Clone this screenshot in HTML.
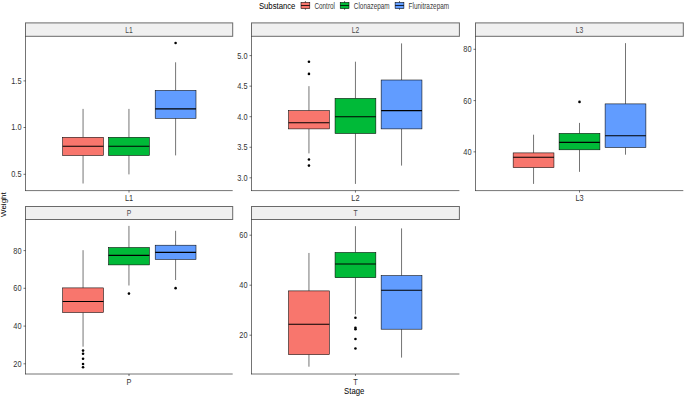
<!DOCTYPE html>
<html><head><meta charset="utf-8"><style>
html,body{margin:0;padding:0;background:#fff;}
body{width:685px;height:397px;overflow:hidden;}
svg{display:block;font-family:"Liberation Sans", sans-serif;}
</style></head><body>
<svg width="685" height="397" viewBox="0 0 685 397">
<rect width="685" height="397" fill="#fff"/>
<rect x="25.50" y="22.90" width="207.20" height="13.40" fill="#F0F0F0" stroke="#6A6A6A" stroke-width="1.0"/>
<text font-size="8.2" fill="#4A4A4A" text-anchor="middle" transform="translate(129.00 32.80) scale(0.82 1)">L1</text>
<line x1="83.05" y1="108.90" x2="83.05" y2="137.30" stroke="#000000" stroke-width="0.55"/>
<line x1="83.05" y1="155.50" x2="83.05" y2="183.50" stroke="#000000" stroke-width="0.55"/>
<rect x="62.65" y="137.30" width="40.80" height="18.20" fill="#F8766D" stroke="#000000" stroke-width="0.55"/>
<line x1="62.65" y1="146.30" x2="103.45" y2="146.30" stroke="#000000" stroke-width="1.1"/>
<line x1="128.95" y1="108.90" x2="128.95" y2="137.30" stroke="#000000" stroke-width="0.55"/>
<line x1="128.95" y1="155.50" x2="128.95" y2="174.40" stroke="#000000" stroke-width="0.55"/>
<rect x="108.55" y="137.30" width="40.80" height="18.20" fill="#00BA38" stroke="#000000" stroke-width="0.55"/>
<line x1="108.55" y1="146.30" x2="149.35" y2="146.30" stroke="#000000" stroke-width="1.1"/>
<line x1="175.60" y1="62.30" x2="175.60" y2="90.40" stroke="#000000" stroke-width="0.55"/>
<line x1="175.60" y1="118.30" x2="175.60" y2="155.40" stroke="#000000" stroke-width="0.55"/>
<rect x="155.20" y="90.40" width="40.80" height="27.90" fill="#619CFF" stroke="#000000" stroke-width="0.55"/>
<line x1="155.20" y1="108.90" x2="196.00" y2="108.90" stroke="#000000" stroke-width="1.1"/>
<circle cx="175.60" cy="43.00" r="1.3" fill="#000"/>
<line x1="25.50" y1="36.30" x2="25.50" y2="190.90" stroke="#000000" stroke-width="0.55"/>
<line x1="25.20" y1="190.60" x2="232.70" y2="190.60" stroke="#000000" stroke-width="0.55"/>
<line x1="23.50" y1="174.30" x2="25.50" y2="174.30" stroke="#000000" stroke-width="0.55"/>
<text font-size="8.2" fill="#333333" text-anchor="end" transform="translate(21.50 177.25) scale(0.9 1)">0.5</text>
<line x1="23.50" y1="127.50" x2="25.50" y2="127.50" stroke="#000000" stroke-width="0.55"/>
<text font-size="8.2" fill="#333333" text-anchor="end" transform="translate(21.50 130.45) scale(0.9 1)">1.0</text>
<line x1="23.50" y1="80.90" x2="25.50" y2="80.90" stroke="#000000" stroke-width="0.55"/>
<text font-size="8.2" fill="#333333" text-anchor="end" transform="translate(21.50 83.85) scale(0.9 1)">1.5</text>
<line x1="129.00" y1="190.60" x2="129.00" y2="192.60" stroke="#000000" stroke-width="0.55"/>
<text font-size="8.2" fill="#333333" text-anchor="middle" transform="translate(129.00 200.90) scale(0.9 1)">L1</text>
<rect x="251.50" y="22.90" width="207.90" height="13.40" fill="#F0F0F0" stroke="#6A6A6A" stroke-width="1.0"/>
<text font-size="8.2" fill="#4A4A4A" text-anchor="middle" transform="translate(355.45 32.80) scale(0.82 1)">L2</text>
<line x1="308.95" y1="86.15" x2="308.95" y2="110.60" stroke="#000000" stroke-width="0.55"/>
<line x1="308.95" y1="128.90" x2="308.95" y2="153.40" stroke="#000000" stroke-width="0.55"/>
<rect x="288.55" y="110.60" width="40.80" height="18.30" fill="#F8766D" stroke="#000000" stroke-width="0.55"/>
<line x1="288.55" y1="122.80" x2="329.35" y2="122.80" stroke="#000000" stroke-width="1.1"/>
<circle cx="308.95" cy="61.70" r="1.3" fill="#000"/>
<circle cx="308.95" cy="73.90" r="1.3" fill="#000"/>
<circle cx="308.95" cy="159.50" r="1.3" fill="#000"/>
<circle cx="308.95" cy="165.60" r="1.3" fill="#000"/>
<line x1="355.45" y1="61.70" x2="355.45" y2="98.40" stroke="#000000" stroke-width="0.55"/>
<line x1="355.45" y1="133.50" x2="355.45" y2="183.90" stroke="#000000" stroke-width="0.55"/>
<rect x="335.05" y="98.40" width="40.80" height="35.10" fill="#00BA38" stroke="#000000" stroke-width="0.55"/>
<line x1="335.05" y1="116.70" x2="375.85" y2="116.70" stroke="#000000" stroke-width="1.1"/>
<line x1="401.55" y1="43.40" x2="401.55" y2="80.00" stroke="#000000" stroke-width="0.55"/>
<line x1="401.55" y1="128.90" x2="401.55" y2="165.60" stroke="#000000" stroke-width="0.55"/>
<rect x="381.15" y="80.00" width="40.80" height="48.90" fill="#619CFF" stroke="#000000" stroke-width="0.55"/>
<line x1="381.15" y1="110.60" x2="421.95" y2="110.60" stroke="#000000" stroke-width="1.1"/>
<line x1="251.50" y1="36.30" x2="251.50" y2="190.90" stroke="#000000" stroke-width="0.55"/>
<line x1="251.20" y1="190.60" x2="459.40" y2="190.60" stroke="#000000" stroke-width="0.55"/>
<line x1="249.50" y1="177.80" x2="251.50" y2="177.80" stroke="#000000" stroke-width="0.55"/>
<text font-size="8.2" fill="#333333" text-anchor="end" transform="translate(247.50 180.75) scale(0.9 1)">3.0</text>
<line x1="249.50" y1="147.25" x2="251.50" y2="147.25" stroke="#000000" stroke-width="0.55"/>
<text font-size="8.2" fill="#333333" text-anchor="end" transform="translate(247.50 150.20) scale(0.9 1)">3.5</text>
<line x1="249.50" y1="116.70" x2="251.50" y2="116.70" stroke="#000000" stroke-width="0.55"/>
<text font-size="8.2" fill="#333333" text-anchor="end" transform="translate(247.50 119.65) scale(0.9 1)">4.0</text>
<line x1="249.50" y1="86.15" x2="251.50" y2="86.15" stroke="#000000" stroke-width="0.55"/>
<text font-size="8.2" fill="#333333" text-anchor="end" transform="translate(247.50 89.10) scale(0.9 1)">4.5</text>
<line x1="249.50" y1="55.60" x2="251.50" y2="55.60" stroke="#000000" stroke-width="0.55"/>
<text font-size="8.2" fill="#333333" text-anchor="end" transform="translate(247.50 58.55) scale(0.9 1)">5.0</text>
<line x1="355.45" y1="190.60" x2="355.45" y2="192.60" stroke="#000000" stroke-width="0.55"/>
<text font-size="8.2" fill="#333333" text-anchor="middle" transform="translate(355.45 200.90) scale(0.9 1)">L2</text>
<rect x="475.50" y="22.90" width="207.80" height="13.40" fill="#F0F0F0" stroke="#6A6A6A" stroke-width="1.0"/>
<text font-size="8.2" fill="#4A4A4A" text-anchor="middle" transform="translate(579.50 32.80) scale(0.82 1)">L3</text>
<line x1="533.55" y1="134.70" x2="533.55" y2="152.90" stroke="#000000" stroke-width="0.55"/>
<line x1="533.55" y1="167.60" x2="533.55" y2="183.90" stroke="#000000" stroke-width="0.55"/>
<rect x="513.15" y="152.90" width="40.80" height="14.70" fill="#F8766D" stroke="#000000" stroke-width="0.55"/>
<line x1="513.15" y1="157.20" x2="553.95" y2="157.20" stroke="#000000" stroke-width="1.1"/>
<line x1="579.50" y1="122.90" x2="579.50" y2="133.40" stroke="#000000" stroke-width="0.55"/>
<line x1="579.50" y1="149.80" x2="579.50" y2="171.85" stroke="#000000" stroke-width="0.55"/>
<rect x="559.10" y="133.40" width="40.80" height="16.40" fill="#00BA38" stroke="#000000" stroke-width="0.55"/>
<line x1="559.10" y1="142.40" x2="599.90" y2="142.40" stroke="#000000" stroke-width="1.1"/>
<circle cx="579.50" cy="101.90" r="1.3" fill="#000"/>
<line x1="625.50" y1="43.15" x2="625.50" y2="103.90" stroke="#000000" stroke-width="0.55"/>
<line x1="625.50" y1="147.50" x2="625.50" y2="154.70" stroke="#000000" stroke-width="0.55"/>
<rect x="605.10" y="103.90" width="40.80" height="43.60" fill="#619CFF" stroke="#000000" stroke-width="0.55"/>
<line x1="605.10" y1="135.70" x2="645.90" y2="135.70" stroke="#000000" stroke-width="1.1"/>
<line x1="475.50" y1="36.30" x2="475.50" y2="190.90" stroke="#000000" stroke-width="0.55"/>
<line x1="475.20" y1="190.60" x2="683.30" y2="190.60" stroke="#000000" stroke-width="0.55"/>
<line x1="473.50" y1="151.85" x2="475.50" y2="151.85" stroke="#000000" stroke-width="0.55"/>
<text font-size="8.2" fill="#333333" text-anchor="end" transform="translate(471.50 154.80) scale(0.9 1)">40</text>
<line x1="473.50" y1="100.60" x2="475.50" y2="100.60" stroke="#000000" stroke-width="0.55"/>
<text font-size="8.2" fill="#333333" text-anchor="end" transform="translate(471.50 103.55) scale(0.9 1)">60</text>
<line x1="473.50" y1="49.30" x2="475.50" y2="49.30" stroke="#000000" stroke-width="0.55"/>
<text font-size="8.2" fill="#333333" text-anchor="end" transform="translate(471.50 52.25) scale(0.9 1)">80</text>
<line x1="579.50" y1="190.60" x2="579.50" y2="192.60" stroke="#000000" stroke-width="0.55"/>
<text font-size="8.2" fill="#333333" text-anchor="middle" transform="translate(579.50 200.90) scale(0.9 1)">L3</text>
<rect x="25.50" y="206.50" width="207.20" height="13.00" fill="#F0F0F0" stroke="#6A6A6A" stroke-width="1.0"/>
<text font-size="8.2" fill="#4A4A4A" text-anchor="middle" transform="translate(129.00 216.20) scale(0.82 1)">P</text>
<line x1="83.05" y1="250.20" x2="83.05" y2="287.90" stroke="#000000" stroke-width="0.55"/>
<line x1="83.05" y1="312.50" x2="83.05" y2="346.70" stroke="#000000" stroke-width="0.55"/>
<rect x="62.65" y="287.90" width="40.80" height="24.60" fill="#F8766D" stroke="#000000" stroke-width="0.55"/>
<line x1="62.65" y1="301.50" x2="103.45" y2="301.50" stroke="#000000" stroke-width="1.1"/>
<circle cx="83.05" cy="350.60" r="1.3" fill="#000"/>
<circle cx="83.05" cy="353.80" r="1.3" fill="#000"/>
<circle cx="83.05" cy="358.70" r="1.3" fill="#000"/>
<circle cx="83.05" cy="364.00" r="1.3" fill="#000"/>
<circle cx="83.05" cy="367.20" r="1.3" fill="#000"/>
<line x1="128.95" y1="225.90" x2="128.95" y2="247.50" stroke="#000000" stroke-width="0.55"/>
<line x1="128.95" y1="264.90" x2="128.95" y2="285.50" stroke="#000000" stroke-width="0.55"/>
<rect x="108.55" y="247.50" width="40.80" height="17.40" fill="#00BA38" stroke="#000000" stroke-width="0.55"/>
<line x1="108.55" y1="255.40" x2="149.35" y2="255.40" stroke="#000000" stroke-width="1.1"/>
<circle cx="128.95" cy="293.60" r="1.3" fill="#000"/>
<line x1="175.60" y1="230.80" x2="175.60" y2="245.20" stroke="#000000" stroke-width="0.55"/>
<line x1="175.60" y1="259.40" x2="175.60" y2="280.00" stroke="#000000" stroke-width="0.55"/>
<rect x="155.20" y="245.20" width="40.80" height="14.20" fill="#619CFF" stroke="#000000" stroke-width="0.55"/>
<line x1="155.20" y1="252.40" x2="196.00" y2="252.40" stroke="#000000" stroke-width="1.1"/>
<circle cx="175.60" cy="288.15" r="1.3" fill="#000"/>
<line x1="25.50" y1="219.50" x2="25.50" y2="374.30" stroke="#000000" stroke-width="0.55"/>
<line x1="25.20" y1="374.00" x2="232.70" y2="374.00" stroke="#000000" stroke-width="0.55"/>
<line x1="23.50" y1="363.80" x2="25.50" y2="363.80" stroke="#000000" stroke-width="0.55"/>
<text font-size="8.2" fill="#333333" text-anchor="end" transform="translate(21.50 366.75) scale(0.9 1)">20</text>
<line x1="23.50" y1="326.10" x2="25.50" y2="326.10" stroke="#000000" stroke-width="0.55"/>
<text font-size="8.2" fill="#333333" text-anchor="end" transform="translate(21.50 329.05) scale(0.9 1)">40</text>
<line x1="23.50" y1="288.30" x2="25.50" y2="288.30" stroke="#000000" stroke-width="0.55"/>
<text font-size="8.2" fill="#333333" text-anchor="end" transform="translate(21.50 291.25) scale(0.9 1)">60</text>
<line x1="23.50" y1="250.60" x2="25.50" y2="250.60" stroke="#000000" stroke-width="0.55"/>
<text font-size="8.2" fill="#333333" text-anchor="end" transform="translate(21.50 253.55) scale(0.9 1)">80</text>
<line x1="129.00" y1="374.00" x2="129.00" y2="376.00" stroke="#000000" stroke-width="0.55"/>
<text font-size="8.2" fill="#333333" text-anchor="middle" transform="translate(129.00 384.90) scale(0.9 1)">P</text>
<rect x="251.50" y="206.50" width="207.90" height="13.00" fill="#F0F0F0" stroke="#6A6A6A" stroke-width="1.0"/>
<text font-size="8.2" fill="#4A4A4A" text-anchor="middle" transform="translate(355.45 216.20) scale(0.82 1)">T</text>
<line x1="308.95" y1="252.95" x2="308.95" y2="290.90" stroke="#000000" stroke-width="0.55"/>
<line x1="308.95" y1="354.60" x2="308.95" y2="366.70" stroke="#000000" stroke-width="0.55"/>
<rect x="288.55" y="290.90" width="40.80" height="63.70" fill="#F8766D" stroke="#000000" stroke-width="0.55"/>
<line x1="288.55" y1="324.20" x2="329.35" y2="324.20" stroke="#000000" stroke-width="1.1"/>
<line x1="355.45" y1="226.20" x2="355.45" y2="252.45" stroke="#000000" stroke-width="0.55"/>
<line x1="355.45" y1="277.70" x2="355.45" y2="314.45" stroke="#000000" stroke-width="0.55"/>
<rect x="335.05" y="252.45" width="40.80" height="25.25" fill="#00BA38" stroke="#000000" stroke-width="0.55"/>
<line x1="335.05" y1="263.95" x2="375.85" y2="263.95" stroke="#000000" stroke-width="1.1"/>
<circle cx="355.45" cy="317.70" r="1.3" fill="#000"/>
<circle cx="355.45" cy="327.70" r="1.3" fill="#000"/>
<circle cx="355.45" cy="329.20" r="1.3" fill="#000"/>
<circle cx="355.45" cy="338.95" r="1.3" fill="#000"/>
<circle cx="355.45" cy="348.45" r="1.3" fill="#000"/>
<line x1="401.55" y1="228.40" x2="401.55" y2="275.60" stroke="#000000" stroke-width="0.55"/>
<line x1="401.55" y1="329.20" x2="401.55" y2="357.60" stroke="#000000" stroke-width="0.55"/>
<rect x="381.15" y="275.60" width="40.80" height="53.60" fill="#619CFF" stroke="#000000" stroke-width="0.55"/>
<line x1="381.15" y1="290.20" x2="421.95" y2="290.20" stroke="#000000" stroke-width="1.1"/>
<line x1="251.50" y1="219.50" x2="251.50" y2="374.30" stroke="#000000" stroke-width="0.55"/>
<line x1="251.20" y1="374.00" x2="459.40" y2="374.00" stroke="#000000" stroke-width="0.55"/>
<line x1="249.50" y1="335.20" x2="251.50" y2="335.20" stroke="#000000" stroke-width="0.55"/>
<text font-size="8.2" fill="#333333" text-anchor="end" transform="translate(247.50 338.15) scale(0.9 1)">20</text>
<line x1="249.50" y1="285.20" x2="251.50" y2="285.20" stroke="#000000" stroke-width="0.55"/>
<text font-size="8.2" fill="#333333" text-anchor="end" transform="translate(247.50 288.15) scale(0.9 1)">40</text>
<line x1="249.50" y1="235.20" x2="251.50" y2="235.20" stroke="#000000" stroke-width="0.55"/>
<text font-size="8.2" fill="#333333" text-anchor="end" transform="translate(247.50 238.15) scale(0.9 1)">60</text>
<line x1="355.45" y1="374.00" x2="355.45" y2="376.00" stroke="#000000" stroke-width="0.55"/>
<text font-size="8.2" fill="#333333" text-anchor="middle" transform="translate(355.45 384.90) scale(0.9 1)">T</text>
<text font-size="8.8" fill="#000" text-anchor="middle" transform="translate(354.20 394.30) scale(0.88 1)">Stage</text>
<text x="0" y="0" font-size="8.0" fill="#000" text-anchor="middle" transform="translate(5.8 204.6) rotate(-90) scale(1 0.92)">Weight</text>
<text font-size="8.8" fill="#000" text-anchor="start" transform="translate(258.90 8.60) scale(0.88 1)">Substance</text>
<line x1="305.40" y1="1.0" x2="305.40" y2="9.9" stroke="#000000" stroke-width="0.55"/>
<rect x="301.00" y="2.4" width="8.8" height="6.2" fill="#F8766D" stroke="#000000" stroke-width="0.55"/>
<line x1="301.00" y1="5.5" x2="309.80" y2="5.5" stroke="#000000" stroke-width="0.8"/>
<text font-size="8.2" fill="#3A3A3A" text-anchor="start" transform="translate(314.40 8.60) scale(0.78 1)">Control</text>
<line x1="344.60" y1="1.0" x2="344.60" y2="9.9" stroke="#000000" stroke-width="0.55"/>
<rect x="340.20" y="2.4" width="8.8" height="6.2" fill="#00BA38" stroke="#000000" stroke-width="0.55"/>
<line x1="340.20" y1="5.5" x2="349.00" y2="5.5" stroke="#000000" stroke-width="0.8"/>
<text font-size="8.2" fill="#3A3A3A" text-anchor="start" transform="translate(353.80 8.60) scale(0.78 1)">Clonazepam</text>
<line x1="399.50" y1="1.0" x2="399.50" y2="9.9" stroke="#000000" stroke-width="0.55"/>
<rect x="395.10" y="2.4" width="8.8" height="6.2" fill="#619CFF" stroke="#000000" stroke-width="0.55"/>
<line x1="395.10" y1="5.5" x2="403.90" y2="5.5" stroke="#000000" stroke-width="0.8"/>
<text font-size="8.2" fill="#3A3A3A" text-anchor="start" transform="translate(408.60 8.60) scale(0.78 1)">Flunitrazepam</text>
</svg>
</body></html>
